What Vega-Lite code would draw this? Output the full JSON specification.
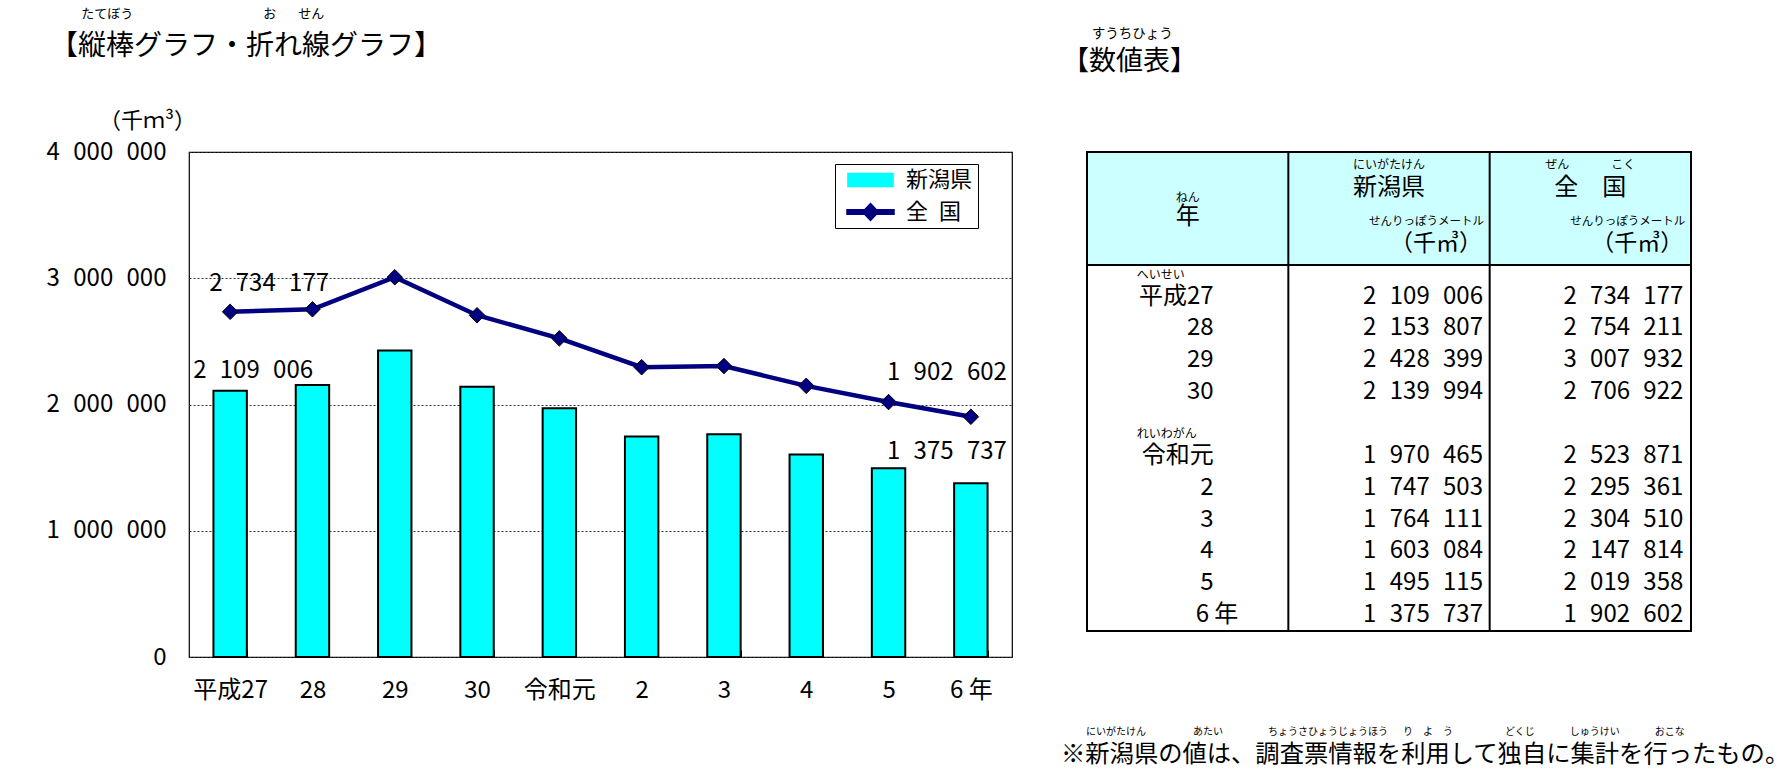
{
  "$schema": "https://vega.github.io/schema/vega-lite/v6.json",
  "background": "white",
  "padding": {"left": 45, "top": 7, "right": 5, "bottom": 5},
  "bounds": "flush",
  "spacing": 75,
  "config": {
    "font": "Noto Sans CJK JP",
    "locale": {"number": {"decimal": ".", "thousands": "\u2007", "grouping": [3], "currency": ["", ""]}},
    "view": {"stroke": null},
    "title": {"font": "Noto Sans CJK JP", "subtitleFont": "Noto Sans CJK JP", "color": "black", "subtitleColor": "black", "fontWeight": "normal", "subtitleFontWeight": "normal"},
    "axis": {"labelFont": "Noto Sans CJK JP", "titleFont": "Noto Sans CJK JP", "labelColor": "black", "titleColor": "black"},
    "text": {"color": "black", "font": "Noto Sans CJK JP"}
  },
  "datasets": {
    "years": [
      {"year": "平成27", "kana": "へいせい", "新潟県": 2109006, "全国": 2734177},
      {"year": "28", "新潟県": 2153807, "全国": 2754211},
      {"year": "29", "新潟県": 2428399, "全国": 3007932},
      {"year": "30", "新潟県": 2139994, "全国": 2706922},
      {"year": "令和元", "kana": "れいわがん", "新潟県": 1970465, "全国": 2523871},
      {"year": "2", "新潟県": 1747503, "全国": 2295361},
      {"year": "3", "新潟県": 1764111, "全国": 2304510},
      {"year": "4", "新潟県": 1603084, "全国": 2147814},
      {"year": "5", "新潟県": 1495115, "全国": 2019358},
      {"year": "6 年", "新潟県": 1375737, "全国": 1902602}
    ],
    "header": [
      {"col": "年", "kana": "ねん"},
      {"col": "新潟県", "kana": "にいがたけん", "unitKana": "せんりっぽうメートル", "unit": "（千㎥）"},
      {"col": "全　国", "kana": "ぜん\u3000\u3000\u3000\u2002こく", "unitKana": "せんりっぽうメートル", "unit": "（千㎥）"}
    ]
  },
  "title": {
    "text": "\u200B\u3000\u3000\u2002にいがたけん\u3000\u3000\u3000\u3000\u2002\u2009あたい\u3000\u3000\u3000\u3000\u2002ちょうさひょうじょうほう\u3000\u2002り\u3000よ\u3000う\u3000\u3000\u3000\u3000\u3000\u2009どくじ\u3000\u3000\u3000\u2002しゅうけい\u3000\u3000\u3000\u2002おこな",
    "subtitle": "※新潟県の値は、調査票情報を利用して独自に集計を行ったもの。",
    "orient": "bottom",
    "anchor": "start",
    "frame": "group",
    "dx": 872,
    "offset": 24,
    "fontSize": 10,
    "subtitleFontSize": 24.3,
    "subtitlePadding": 6
  },
  "hconcat": [
    {
      "width": 823,
      "height": 505,
      "data": {"name": "years"},
      "transform": [{"fold": ["新潟県", "全国"], "as": ["series", "value"]}],
      "view": {"stroke": "black", "strokeWidth": 1.2},
      "title": {
        "text": "\u200B\u3000\u3000\u2009\u2009たてぼう\u3000\u3000\u3000\u3000\u3000\u3000\u3000\u3000\u3000\u3000お\u3000\u2002\u2009せん",
        "subtitle": "【縦棒グラフ・折れ線グラフ】",
        "anchor": "start",
        "frame": "group",
        "dx": -139,
        "fontSize": 13,
        "subtitleFontSize": 28,
        "subtitlePadding": 12,
        "offset": 48
      },
      "encoding": {
        "x": {
          "field": "year", "type": "nominal",
          "scale": {"type": "band", "domain": ["平成27", "28", "29", "30", "令和元", "2", "3", "4", "5", "6 年"], "paddingInner": 0.594, "paddingOuter": 0.297},
          "axis": {"title": null, "labelAngle": 0, "labelFontSize": 24, "labelPadding": 28, "domain": false, "ticks": true, "tickBand": "extent", "tickSize": -7, "tickColor": "black", "tickWidth": 1, "grid": false}
        },
        "y": {
          "field": "value", "type": "quantitative",
          "scale": {"domain": [0, 4000000], "nice": false},
          "axis": {"title": "（千ｍ³）", "titleAngle": 0, "titleX": -42, "titleY": -32, "titleAlign": "center", "titleBaseline": "middle", "titleFontSize": 22, "titleFontWeight": "normal", "values": [0, 1000000, 2000000, 3000000, 4000000], "format": ",.0f", "labelFontSize": 24, "labelPadding": 23, "ticks": false, "domain": false, "grid": true, "gridColor": "#333333", "gridDash": [2, 2], "gridWidth": 1}
        }
      },
      "layer": [
        {
          "transform": [{"filter": "datum.series === '新潟県'"}],
          "mark": {"type": "bar", "opacity": 1},
          "encoding": {
            "color": {
              "field": "series", "type": "nominal",
              "scale": {"domain": ["新潟県", "全国"], "range": ["#00FFFF", "#000080"]},
              "legend": {
                "orient": "none", "legendX": 646, "legendY": 12, "title": null, "direction": "vertical",
                "padding": 5, "symbolSize": 2209, "clipHeight": 22, "rowPadding": 10, "symbolOffset": 6, "labelOffset": 11,
                "labelFontSize": 22, "labelFont": "Noto Sans CJK JP", "labelColor": "black",
                "labelExpr": "datum.label === '全国' ? '全\u2002国' : datum.label",
                "strokeColor": "black", "fillColor": "white",
                "symbolStrokeColor": "black", "symbolStrokeWidth": 1.5, "symbolOpacity": 1
              }
            }
          }
        },
        {
          "transform": [{"filter": "datum.series === '新潟県'"}],
          "mark": {"type": "bar", "fill": null, "fillOpacity": 0, "stroke": "black", "strokeWidth": 2}
        },
        {
          "transform": [{"filter": "datum.series === '全国'"}],
          "mark": {"type": "line", "strokeWidth": 4.5, "opacity": 1},
          "encoding": {"color": {"field": "series", "type": "nominal"}}
        },
        {
          "transform": [{"filter": "datum.series === '全国'"}],
          "mark": {"type": "point", "shape": "diamond", "filled": true, "size": 240, "stroke": "black", "strokeWidth": 1, "opacity": 1},
          "encoding": {"color": {"field": "series", "type": "nominal"}}
        },
        {
          "mark": {"type": "point", "filled": true, "size": 0, "opacity": 1},
          "encoding": {
            "color": {"field": "series", "type": "nominal"},
            "shape": {
              "field": "series", "type": "nominal",
              "scale": {"domain": ["新潟県", "全国"], "range": ["M-0.96,-0.28H0.96V0.28H-0.96Z", "M-1,-0.1H1V0.1H-1Z M0,-0.36L0.34,0L0,0.36L-0.34,0Z"]}
            }
          }
        },
        {
          "transform": [{"filter": "datum.series === '新潟県' && datum.year === '平成27'"}],
          "mark": {"type": "text", "align": "left", "baseline": "middle", "dx": -37, "dy": -20, "fontSize": 24},
          "encoding": {"text": {"field": "value", "type": "quantitative", "format": ","}}
        },
        {
          "transform": [{"filter": "datum.series === '新潟県' && datum.year === '6 年'"}],
          "mark": {"type": "text", "align": "right", "baseline": "middle", "dx": 36, "dy": -31, "fontSize": 24},
          "encoding": {"text": {"field": "value", "type": "quantitative", "format": ","}}
        },
        {
          "transform": [{"filter": "datum.series === '全国' && datum.year === '平成27'"}],
          "mark": {"type": "text", "align": "left", "baseline": "middle", "dx": -21, "dy": -28, "fontSize": 24},
          "encoding": {"text": {"field": "value", "type": "quantitative", "format": ","}}
        },
        {
          "transform": [{"filter": "datum.series === '全国' && datum.year === '6 年'"}],
          "mark": {"type": "text", "align": "right", "baseline": "middle", "dx": 36, "dy": -44, "fontSize": 24},
          "encoding": {"text": {"field": "value", "type": "quantitative", "format": ","}}
        }
      ]
    },
    {
      "spacing": 0,
      "bounds": "flush",
      "title": {
        "text": "\u200B\u3000\u3000\u2009すうちひょう",
        "subtitle": "【数値表】",
        "anchor": "start",
        "frame": "group",
        "dx": -25,
        "fontSize": 13.5,
        "subtitleFontSize": 27,
        "subtitlePadding": 9,
        "offset": 75
      },
      "vconcat": [
        {
          "width": 604,
          "height": 113,
          "data": {"name": "header"},
          "view": {"fill": "#CCFFFF", "stroke": "black", "strokeWidth": 2},
          "encoding": {
            "x": {
              "field": "col", "type": "nominal",
              "scale": {"type": "band", "domain": ["年", "新潟県", "全　国"], "paddingInner": 0, "paddingOuter": 0},
              "axis": null
            }
          },
          "layer": [
            {
              "transform": [{"filter": "datum.col !== '年'"}],
              "mark": {"type": "rule", "color": "black", "strokeWidth": 2},
              "encoding": {"x": {"field": "col", "type": "nominal", "bandPosition": 0}}
            },
            {
              "transform": [{"filter": "datum.col === '年'"}],
              "mark": {"type": "text", "baseline": "middle", "dy": 8, "fontSize": 24},
              "encoding": {"text": {"field": "col"}}
            },
            {
              "transform": [{"filter": "datum.col !== '年'"}],
              "mark": {"type": "text", "baseline": "middle", "dy": -21, "fontSize": 24},
              "encoding": {"text": {"field": "col"}}
            },
            {
              "transform": [{"filter": "datum.col === '年'"}],
              "mark": {"type": "text", "baseline": "middle", "dy": -11, "fontSize": 12},
              "encoding": {"text": {"field": "kana"}}
            },
            {
              "transform": [{"filter": "datum.col !== '年'"}],
              "mark": {"type": "text", "baseline": "middle", "dy": -44, "fontSize": 12},
              "encoding": {"text": {"field": "kana"}}
            },
            {
              "transform": [{"filter": "datum.col !== '年'"}],
              "mark": {"type": "text", "align": "right", "baseline": "middle", "dx": 95, "dy": 13, "fontSize": 11.5},
              "encoding": {"text": {"field": "unitKana"}}
            },
            {
              "transform": [{"filter": "datum.col !== '年'"}],
              "mark": {"type": "text", "align": "right", "baseline": "middle", "dx": 93, "dy": 35, "fontSize": 23},
              "encoding": {"text": {"field": "unit"}}
            }
          ]
        },
        {
          "width": 604,
          "height": 366,
          "data": {"name": "years"},
          "view": {"stroke": "black", "strokeWidth": 2},
          "layer": [
            {
              "data": {"name": "header"},
              "transform": [{"filter": "datum.col !== '年'"}],
              "mark": {"type": "rule", "color": "black", "strokeWidth": 2},
              "encoding": {
                "x": {
                  "field": "col", "type": "nominal", "bandPosition": 0,
                  "scale": {"type": "band", "domain": ["年", "新潟県", "全　国"], "paddingInner": 0, "paddingOuter": 0},
                  "axis": null
                }
              }
            },
            {
              "transform": [{"filter": "datum.year !== '6 年'"}],
              "mark": {"type": "text", "align": "right", "baseline": "middle", "dx": 26, "fontSize": 24},
              "encoding": {
                "x": {"datum": "年", "type": "nominal", "axis": null},
                "y": {
                  "field": "year", "type": "nominal",
                  "scale": {"type": "band", "domain": ["平成27", "28", "29", "30", "gap", "令和元", "2", "3", "4", "5", "6 年"], "paddingInner": 0, "paddingOuter": 0.247, "align": 1},
                  "axis": null
                },
                "text": {"field": "year"}
              }
            },
            {
              "transform": [{"filter": "datum.year === '6 年'"}],
              "mark": {"type": "text", "align": "left", "baseline": "middle", "dx": 8, "fontSize": 24},
              "encoding": {"x": {"datum": "年", "type": "nominal", "axis": null}, "y": {"field": "year", "type": "nominal", "axis": null}, "text": {"field": "year"}}
            },
            {
              "transform": [{"filter": "datum.kana"}],
              "mark": {"type": "text", "align": "left", "baseline": "middle", "dx": -51, "dy": -22, "fontSize": 12},
              "encoding": {"x": {"datum": "年", "type": "nominal", "axis": null}, "y": {"field": "year", "type": "nominal", "axis": null}, "text": {"field": "kana"}}
            },
            {
              "mark": {"type": "text", "align": "right", "baseline": "middle", "dx": 94, "fontSize": 24},
              "encoding": {"x": {"datum": "新潟県", "type": "nominal", "axis": null}, "y": {"field": "year", "type": "nominal", "axis": null}, "text": {"field": "新潟県", "type": "quantitative", "format": ","}}
            },
            {
              "mark": {"type": "text", "align": "right", "baseline": "middle", "dx": 93, "fontSize": 24},
              "encoding": {"x": {"datum": "全　国", "type": "nominal", "axis": null}, "y": {"field": "year", "type": "nominal", "axis": null}, "text": {"field": "全国", "type": "quantitative", "format": ","}}
            }
          ]
        }
      ]
    }
  ]
}
